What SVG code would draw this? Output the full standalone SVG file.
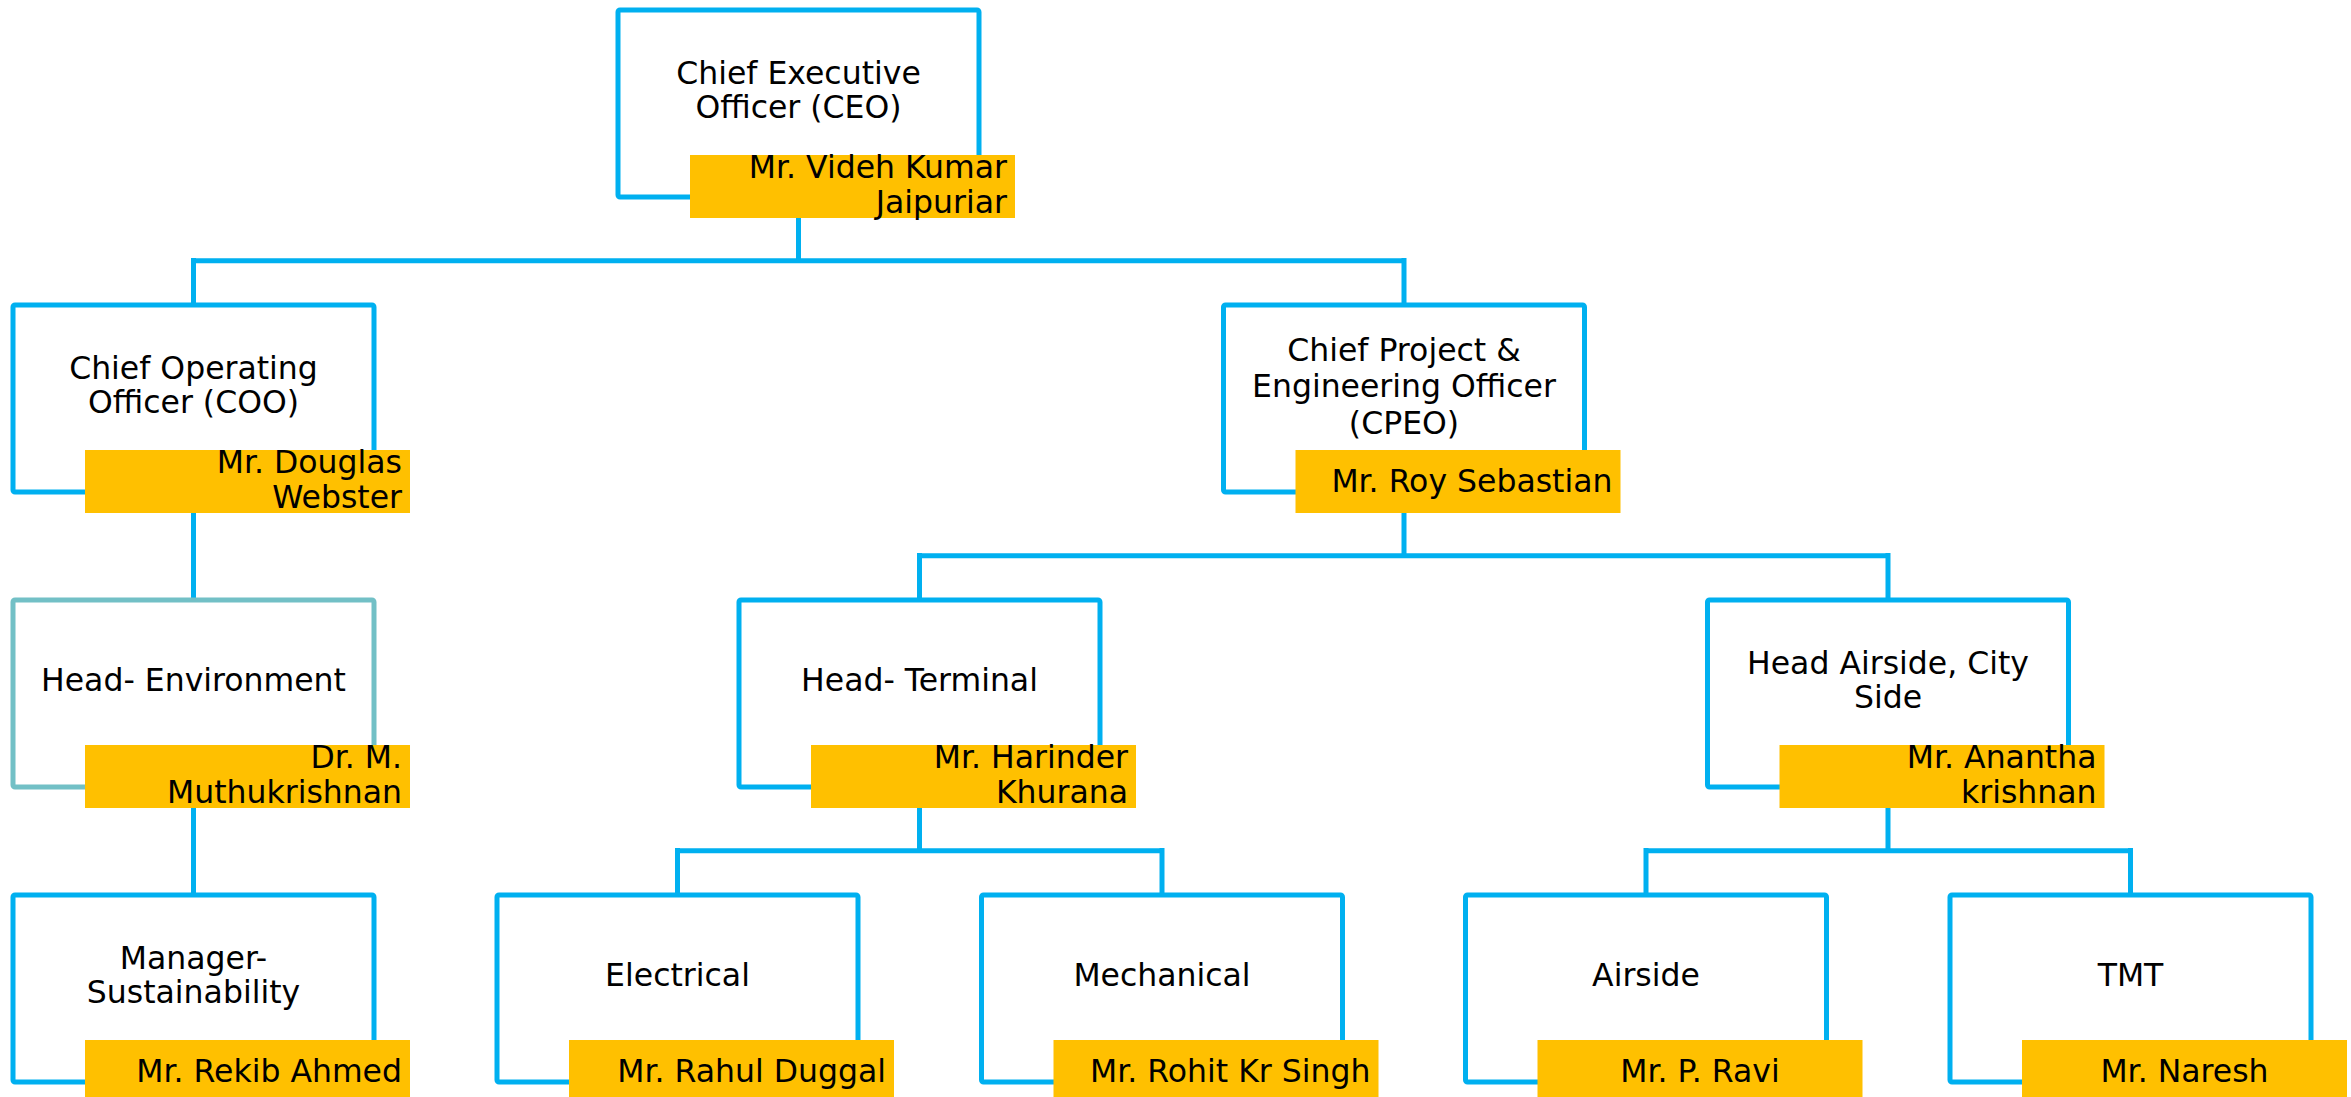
<svg xmlns="http://www.w3.org/2000/svg" width="2351" height="1097" viewBox="0 0 2351 1097">
<style>
.box{fill:#FFFFFF;stroke:#00B0F0;stroke-width:5;stroke-linejoin:round}
.teal{stroke:#72C0C6}
.name{fill:#FFC000}
.conn{fill:none;stroke:#00B0F0;stroke-width:5}
text{font-family:"DejaVu Sans","Verdana",sans-serif;font-size:31.5px;fill:#000000}
.t{text-anchor:middle}
.r{text-anchor:end}
</style>
<rect width="2351" height="1097" fill="#FFFFFF"/>
<g id="connectors">
<path class="conn" d="M798.5 197 V260.7 M193.5 260.7 H1404 M193.5 258 V305 M1404 258 V305"/>
<path class="conn" d="M193.5 492 V600"/>
<path class="conn" d="M193.5 787 V895"/>
<path class="conn" d="M1404 492 V555.7 M919.5 555.7 H1888 M919.5 553 V600 M1888 553 V600"/>
<path class="conn" d="M919.5 787 V850.7 M677.5 850.7 H1162 M677.5 848 V895 M1162 848 V895"/>
<path class="conn" d="M1888 787 V850.7 M1646 850.7 H2130.5 M1646 848 V895 M2130.5 848 V895"/>
</g>
<g id="ceo">
<rect class="box" x="618" y="10" width="361" height="187" rx="2"/>
<text class="t" x="798.5" y="84">Chief Executive</text>
<text class="t" x="798.5" y="118">Officer (CEO)</text>
<rect class="name" x="690" y="155" width="325" height="63"/>
<text class="r" x="1007" y="178">Mr. Videh Kumar</text>
<text class="r" x="1007" y="213">Jaipuriar</text>
</g>
<g id="coo">
<rect class="box" x="13" y="305" width="361" height="187" rx="2"/>
<text class="t" x="193.5" y="379">Chief Operating</text>
<text class="t" x="193.5" y="413">Officer (COO)</text>
<rect class="name" x="85" y="450" width="325" height="63"/>
<text class="r" x="402" y="473">Mr. Douglas</text>
<text class="r" x="402" y="508">Webster</text>
</g>
<g id="cpeo">
<rect class="box" x="1223.5" y="305" width="361" height="187" rx="2"/>
<text class="t" x="1404" y="361">Chief Project &amp;</text>
<text class="t" x="1404" y="397">Engineering Officer</text>
<text class="t" x="1404" y="434">(CPEO)</text>
<rect class="name" x="1295.5" y="450" width="325" height="63"/>
<text class="r" x="1612.5" y="492">Mr. Roy Sebastian</text>
</g>
<g id="head-environment">
<rect class="box teal" x="13" y="600" width="361" height="187" rx="2"/>
<text class="t" x="193.5" y="691">Head- Environment</text>
<rect class="name" x="85" y="745" width="325" height="63"/>
<text class="r" x="402" y="768">Dr. M.</text>
<text class="r" x="402" y="803">Muthukrishnan</text>
</g>
<g id="head-terminal">
<rect class="box" x="739" y="600" width="361" height="187" rx="2"/>
<text class="t" x="919.5" y="691">Head- Terminal</text>
<rect class="name" x="811" y="745" width="325" height="63"/>
<text class="r" x="1128" y="768">Mr. Harinder</text>
<text class="r" x="1128" y="803">Khurana</text>
</g>
<g id="head-airside">
<rect class="box" x="1707.5" y="600" width="361" height="187" rx="2"/>
<text class="t" x="1888" y="674">Head Airside, City</text>
<text class="t" x="1888" y="708">Side</text>
<rect class="name" x="1779.5" y="745" width="325" height="63"/>
<text class="r" x="2096.5" y="768">Mr. Anantha</text>
<text class="r" x="2096.5" y="803">krishnan</text>
</g>
<g id="manager-sustainability">
<rect class="box" x="13" y="895" width="361" height="187" rx="2"/>
<text class="t" x="193.5" y="969">Manager-</text>
<text class="t" x="193.5" y="1003">Sustainability</text>
<rect class="name" x="85" y="1040" width="325" height="63"/>
<text class="r" x="402" y="1082">Mr. Rekib Ahmed</text>
</g>
<g id="electrical">
<rect class="box" x="497" y="895" width="361" height="187" rx="2"/>
<text class="t" x="677.5" y="986">Electrical</text>
<rect class="name" x="569" y="1040" width="325" height="63"/>
<text class="r" x="886" y="1082">Mr. Rahul Duggal</text>
</g>
<g id="mechanical">
<rect class="box" x="981.5" y="895" width="361" height="187" rx="2"/>
<text class="t" x="1162" y="986">Mechanical</text>
<rect class="name" x="1053.5" y="1040" width="325" height="63"/>
<text class="r" x="1370.5" y="1082">Mr. Rohit Kr Singh</text>
</g>
<g id="airside">
<rect class="box" x="1465.5" y="895" width="361" height="187" rx="2"/>
<text class="t" x="1646" y="986">Airside</text>
<rect class="name" x="1537.5" y="1040" width="325" height="63"/>
<text class="t" x="1700" y="1082">Mr. P. Ravi</text>
</g>
<g id="tmt">
<rect class="box" x="1950" y="895" width="361" height="187" rx="2"/>
<text class="t" x="2130.5" y="986">TMT</text>
<rect class="name" x="2022" y="1040" width="325" height="63"/>
<text class="t" x="2184.5" y="1082">Mr. Naresh</text>
</g>
</svg>
